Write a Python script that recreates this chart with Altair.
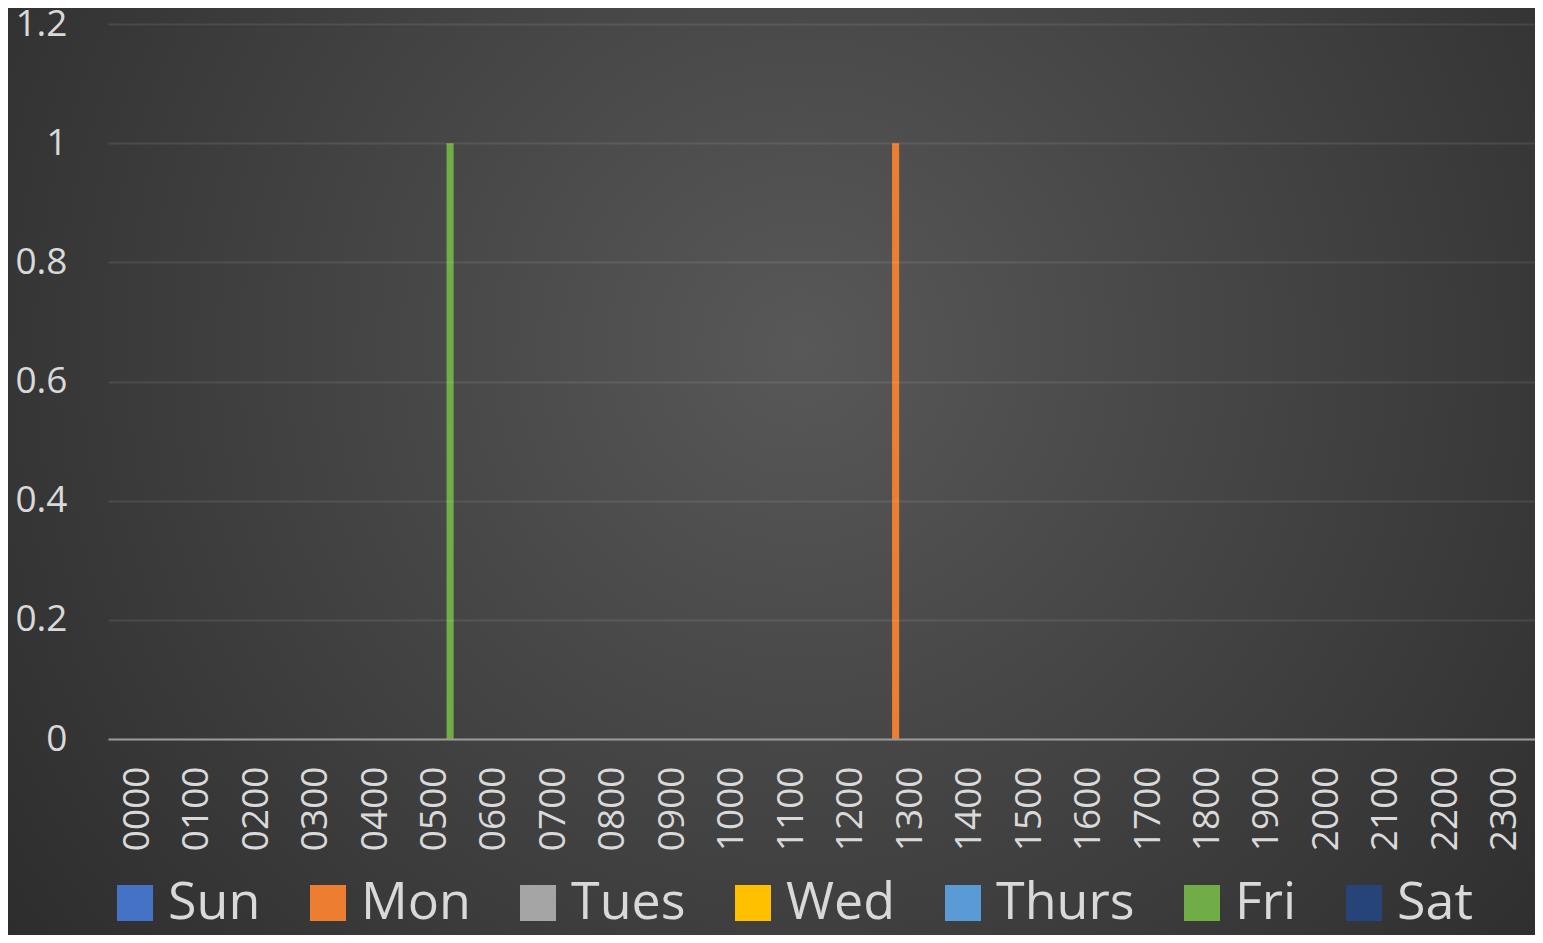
import altair as alt
import pandas as pd

hours = ["0000", "0100", "0200", "0300", "0400", "0500", "0600", "0700",
         "0800", "0900", "1000", "1100", "1200", "1300", "1400", "1500",
         "1600", "1700", "1800", "1900", "2000", "2100", "2200", "2300"]
days = ["Sun", "Mon", "Tues", "Wed", "Thurs", "Fri", "Sat"]
colors = ["#4472C4", "#ED7D31", "#A5A5A5", "#FFC000", "#5B9BD5", "#70AD47", "#264478"]

sun   = [0, 0, 0, 0, 0, 0, 0, 0, 0, 0, 0, 0, 0, 0, 0, 0, 0, 0, 0, 0, 0, 0, 0, 0]
mon   = [0, 0, 0, 0, 0, 0, 0, 0, 0, 0, 0, 0, 0, 1, 0, 0, 0, 0, 0, 0, 0, 0, 0, 0]
tues  = [0, 0, 0, 0, 0, 0, 0, 0, 0, 0, 0, 0, 0, 0, 0, 0, 0, 0, 0, 0, 0, 0, 0, 0]
wed   = [0, 0, 0, 0, 0, 0, 0, 0, 0, 0, 0, 0, 0, 0, 0, 0, 0, 0, 0, 0, 0, 0, 0, 0]
thurs = [0, 0, 0, 0, 0, 0, 0, 0, 0, 0, 0, 0, 0, 0, 0, 0, 0, 0, 0, 0, 0, 0, 0, 0]
fri   = [0, 0, 0, 0, 0, 1, 0, 0, 0, 0, 0, 0, 0, 0, 0, 0, 0, 0, 0, 0, 0, 0, 0, 0]
sat   = [0, 0, 0, 0, 0, 0, 0, 0, 0, 0, 0, 0, 0, 0, 0, 0, 0, 0, 0, 0, 0, 0, 0, 0]
y_ticks = [0, 0.2, 0.4, 0.6, 0.8, 1, 1.2]

series = dict(zip(days, [sun, mon, tues, wed, thurs, fri, sat]))
rows = []
for d in days:
    for h, v in zip(hours, series[d]):
        rows.append({"hour": h, "day": d, "value": v})
df = pd.DataFrame(rows)

W, H = 1427, 715
PAD_L, PAD_T, PAD_B = 100, 16, 196
FONT = "Open Sans"
TXT = "#d9d9d9"

bg = alt.Chart(pd.DataFrame({"a": [0]})).mark_rect(
    fill={"gradient": "radial", "x1": 0.52, "y1": 0.42, "r1": 0,
          "x2": 0.52, "y2": 0.42, "r2": 0.72,
          "stops": [{"offset": 0, "color": "#585858"},
                    {"offset": 1, "color": "#282828"}]}
).encode(
    x=alt.value(-PAD_L), x2=alt.value(W),
    y=alt.value(-PAD_T), y2=alt.value(H + PAD_B)
)

bars = alt.Chart(df).mark_bar().encode(
    x=alt.X("hour:N", sort=hours,
            scale=alt.Scale(paddingInner=0.12, paddingOuter=0.06),
            axis=alt.Axis(title=None, labelAngle=270, labelFont=FONT,
                          labelFontSize=37, labelColor=TXT, labelPadding=27,
                          ticks=False, tickSize=0, domainColor="#9a9a9a",
                          domainWidth=2, grid=False, zindex=1)),
    xOffset=alt.XOffset("day:N", sort=days,
                        scale=alt.Scale(paddingInner=0.06, paddingOuter=0)),
    y=alt.Y("value:Q", scale=alt.Scale(domain=[0, 1.2], nice=False),
            axis=alt.Axis(title=None, values=y_ticks, format="~g",
                          labelFont=FONT, labelFontSize=37, labelColor=TXT,
                          labelPadding=41, ticks=False, tickSize=0,
                          domain=False, grid=True, gridColor="#ffffff",
                          gridOpacity=0.09, gridWidth=2, zindex=1)),
    color=alt.Color("day:N", sort=days,
                    scale=alt.Scale(domain=days, range=colors),
                    legend=alt.Legend(title=None, orient="none",
                                      direction="horizontal",
                                      legendX=1, legendY=853,
                                      symbolType="square", symbolSize=1296,
                                      symbolStrokeWidth=0, symbolOpacity=1,
                                      labelFont=FONT, labelFontSize=52,
                                      labelColor=TXT, labelOffset=7,
                                      columnPadding=41, columns=7)),
)

chart = alt.layer(bg, bars).properties(
    width=W, height=H,
    autosize=alt.AutoSizeParams(type="none"),
    padding={"left": PAD_L, "top": PAD_T, "right": 0, "bottom": PAD_B},
    background="#2b2b2b",
).configure_view(stroke=None)

chart.save("out.html", embed_options={"renderer": "svg", "actions": False})
